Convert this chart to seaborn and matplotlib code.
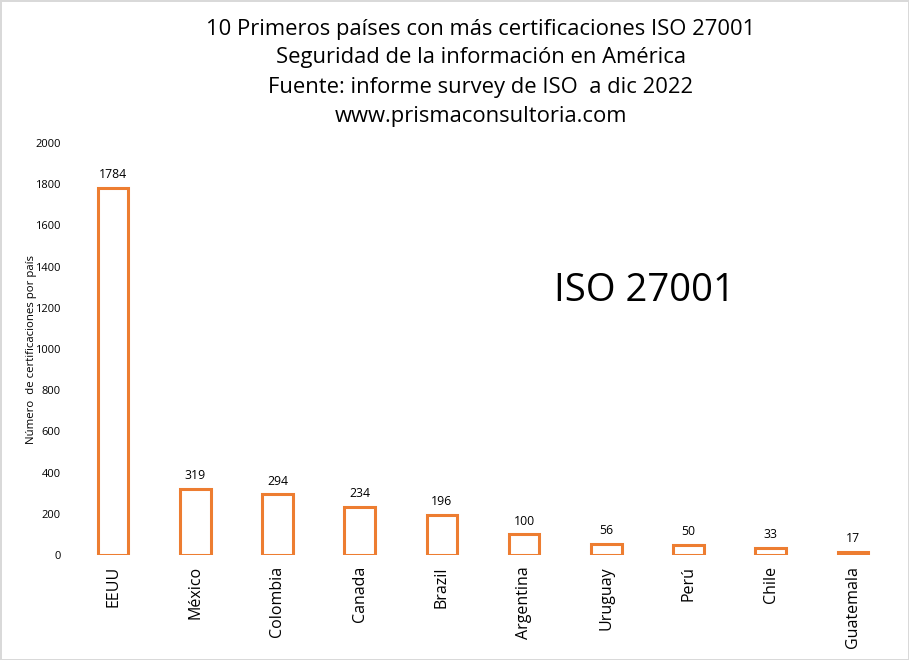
import matplotlib
matplotlib.use("Agg")
import matplotlib.pyplot as plt
import seaborn as sns
import pandas as pd

countries = ["EEUU", "México", "Colombia", "Canada", "Brazil", "Argentina",
             "Uruguay", "Perú", "Chile", "Guatemala"]
values = [1784, 319, 294, 234, 196, 100, 56, 50, 33, 17]
yticks = [0, 200, 400, 600, 800, 1000, 1200, 1400, 1600, 1800, 2000]
title_lines = ["10 Primeros países con más certificaciones ISO 27001",
               "Seguridad de la información en América",
               "Fuente: informe survey de ISO  a dic 2022",
               "www.prismaconsultoria.com"]

sns.set_style("white")
plt.rcParams["font.family"] = ["Open Sans", "DejaVu Sans"]
plt.rcParams["text.color"] = "black"
plt.rcParams["xtick.color"] = "black"
plt.rcParams["ytick.color"] = "black"
plt.rcParams["axes.labelcolor"] = "black"

df = pd.DataFrame({"country": countries, "value": values})

fig = plt.figure(figsize=(9.09, 6.6), dpi=100)
fig.patch.set_edgecolor("#d9d9d9")
fig.patch.set_linewidth(2)
ax = fig.add_axes([0.0792, 0.159, 0.9043, 0.6243])

sns.barplot(data=df, x="country", y="value", ax=ax, width=0.37,
            fill=False, edgecolor="#ED7D31", linewidth=2.2, color="#ED7D31")

ax.set_ylim(0, 2000)
ax.set_xlim(-0.5, len(countries) - 0.5)
ax.set_yticks(yticks)
ax.set_yticklabels([str(t) for t in yticks], fontsize=8)
ax.tick_params(axis="y", length=0, pad=8)
ax.tick_params(axis="x", length=0, pad=8)
ax.set_xticks(range(len(countries)))
ax.set_xticklabels(countries, rotation=90, fontsize=11.5)
ax.set_xlabel("")
ax.set_ylabel("Número  de certificaciones por país", fontsize=8.2, labelpad=-1)
for s in ax.spines.values():
    s.set_visible(False)

for i, v in enumerate(values):
    ax.annotate(str(v), (i, v), xytext=(0, 5), textcoords="offset points",
                ha="center", va="bottom", fontsize=8.8)

ys = [0.955, 0.913, 0.868, 0.823]
for t, y in zip(title_lines, ys):
    fig.text(0.529, y, t, ha="center", va="center", fontsize=15.8)

ax.text(0.696, 0.641, "ISO 27001", transform=ax.transAxes, ha="center",
        va="center", fontsize=27.5)

fig.savefig("out.png", dpi=100)
